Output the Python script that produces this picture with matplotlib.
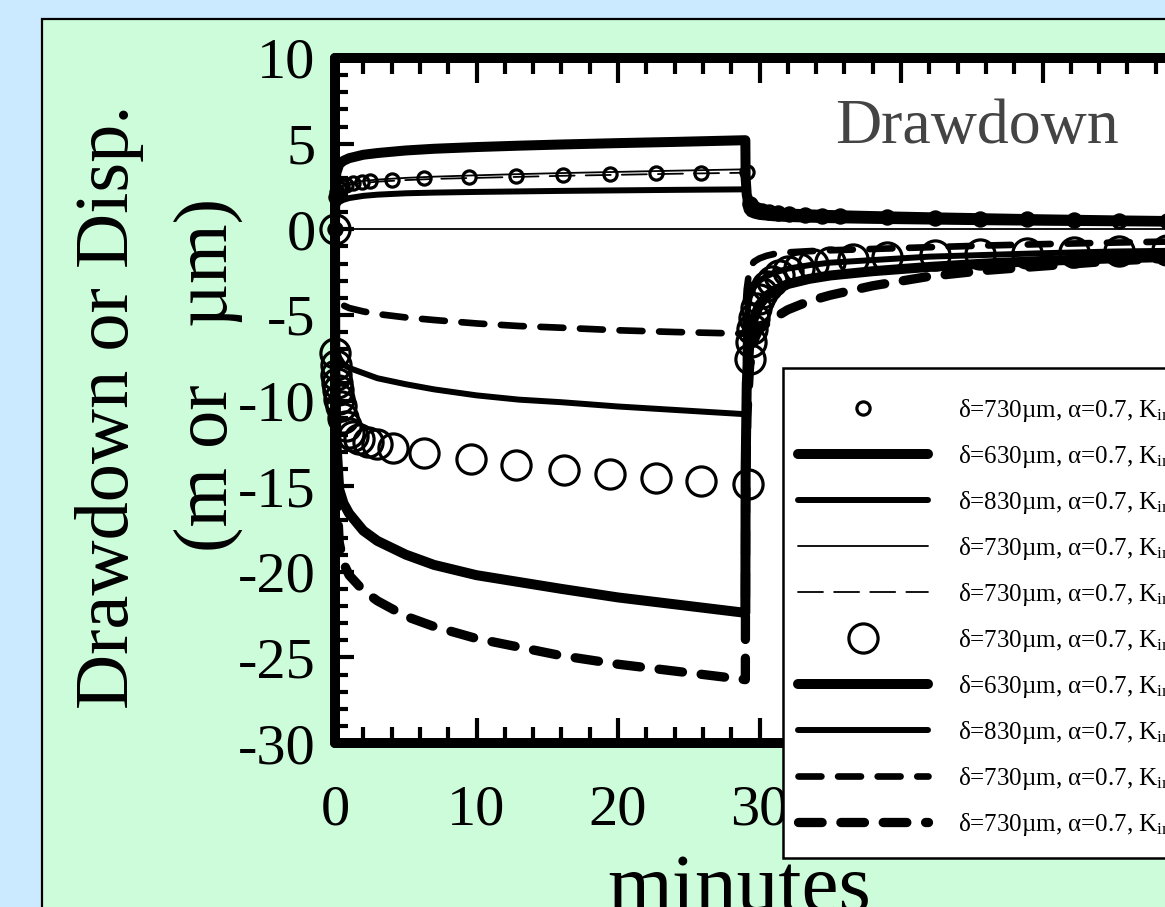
import numpy as np
import matplotlib.pyplot as plt
from matplotlib.patches import Rectangle

W, H = 1165, 907

# model curves share one time base (minutes); pumping stops at 29 min
t_model = [0, 0.02, 0.1, 0.3, 0.6, 1, 2, 3, 5, 7, 10, 13, 16, 20, 24, 29,
           29.02, 29.1, 29.3, 29.6, 30, 30.5, 31, 32, 33.5, 35, 38, 42, 46, 50, 55, 60]

# drawdown (m)
dd_630 = [0, 2.5, 3.3, 3.8, 4.0, 4.15, 4.35, 4.45, 4.6, 4.7, 4.8, 4.88, 4.95, 5.03, 5.1, 5.2,
          3.0, 2.0, 1.5, 1.25, 1.1, 1.02, 0.97, 0.92, 0.87, 0.83, 0.77, 0.7, 0.64, 0.58, 0.52, 0.47]
dd_830 = [0, 1.0, 1.35, 1.6, 1.72, 1.82, 1.95, 2.02, 2.1, 2.14, 2.18, 2.21, 2.24, 2.27, 2.3, 2.33,
          1.5, 1.1, 0.9, 0.8, 0.72, 0.68, 0.64, 0.6, 0.56, 0.53, 0.49, 0.45, 0.41, 0.38, 0.35, 0.32]
dd_730a = [0, 1.6, 2.2, 2.45, 2.6, 2.7, 2.82, 2.9, 3.0, 3.07, 3.15, 3.22, 3.28, 3.35, 3.42, 3.5,
           2.0, 1.4, 1.15, 1.0, 0.92, 0.87, 0.83, 0.78, 0.74, 0.71, 0.66, 0.61, 0.56, 0.52, 0.48, 0.44]
dd_730b = [0, 1.5, 2.1, 2.35, 2.5, 2.6, 2.7, 2.78, 2.87, 2.94, 3.0, 3.06, 3.12, 3.18, 3.24, 3.3,
           1.9, 1.35, 1.1, 0.97, 0.9, 0.85, 0.81, 0.76, 0.72, 0.69, 0.64, 0.59, 0.55, 0.51, 0.47, 0.43]

# displacement (um)
dp_630 = [0, -8, -12.5, -15.2, -16.0, -16.6, -17.6, -18.2, -19.0, -19.6, -20.2, -20.6, -21.0, -21.5, -21.9, -22.4,
          -14, -9, -6.5, -5.2, -4.4, -3.9, -3.6, -3.2, -2.9, -2.7, -2.45, -2.2, -2.0, -1.85, -1.7, -1.6]
dp_830 = [0, -5, -7.0, -7.5, -7.9, -8.1, -8.4, -8.7, -9.05, -9.35, -9.7, -9.95, -10.1, -10.35, -10.55, -10.8,
          -7, -5, -4, -3.4, -3.0, -2.75, -2.55, -2.3, -2.1, -1.95, -1.8, -1.6, -1.5, -1.4, -1.3, -1.25]
dp_730a = [0, -2.5, -3.6, -4.2, -4.45, -4.6, -4.8, -4.95, -5.15, -5.3, -5.5, -5.65, -5.75, -5.9, -6.0, -6.1,
           -4.5, -3.5, -2.3, -1.9, -1.7, -1.55, -1.45, -1.35, -1.28, -1.23, -1.15, -1.05, -0.95, -0.87, -0.78, -0.7]
dp_730b = [0, -10, -15, -18.3, -19.5, -20.2, -21.1, -21.7, -22.6, -23.2, -23.9, -24.4, -24.9, -25.4, -25.8, -26.3,
           -16, -11, -8, -6.5, -5.8, -5.5, -5.2, -4.7, -4.2, -3.85, -3.3, -2.75, -2.4, -2.15, -1.85, -1.65]

# measured points
t_dd_obs = [0, 0.05, 0.15, 0.3, 0.5, 0.8, 1.3, 1.9, 2.5, 4.0, 6.3, 9.5, 12.8, 16.1, 19.4, 22.7, 25.9, 29.1,
            29.3, 29.5, 29.8, 30.2, 30.7, 31.3, 32.1, 33.2, 34.4, 35.7, 39.0, 42.4, 45.6, 48.9, 52.2, 55.4, 58.8]
dd_obs = [0, 1.9, 2.2, 2.4, 2.5, 2.6, 2.7, 2.75, 2.8, 2.87, 2.97, 3.05, 3.1, 3.17, 3.22, 3.27, 3.3, 3.32,
          1.5, 1.3, 1.15, 1.05, 0.98, 0.93, 0.88, 0.84, 0.8, 0.77, 0.72, 0.67, 0.62, 0.58, 0.54, 0.5, 0.47]

t_dp_obs = [0, 0.02, 0.05, 0.1, 0.15, 0.2, 0.3, 0.4, 0.55, 0.75, 1.0, 1.3, 1.7, 2.3, 3.0, 4.1, 6.3, 9.6,
            12.8, 16.2, 19.4, 22.7, 25.9, 29.2,
            29.3, 29.4, 29.5, 29.6, 29.75, 29.95, 30.2, 30.5, 30.9, 31.4, 32.0, 32.8, 33.8, 35.0, 36.6,
            39.0, 42.4, 45.6, 48.9, 52.2, 55.4, 58.8]
dp_obs = [0, -7.2, -7.9, -8.5, -9.0, -9.4, -9.9, -10.3, -11.0, -11.5, -11.9, -12.1, -12.25, -12.4, -12.55,
          -12.75, -13.05, -13.4, -13.75, -14.05, -14.3, -14.55, -14.7, -14.9,
          -7.6, -6.6, -5.8, -5.2, -4.6, -4.1, -3.7, -3.3, -3.0, -2.7, -2.45, -2.25, -2.05, -1.9, -1.75,
          -1.6, -1.5, -1.42, -1.36, -1.3, -1.25, -1.2]

x_major = [0, 10, 20, 30, 40, 50, 60]
x_labels = ['0', '10', '20', '30', '', '', '']   # the rest sit under the legend box

lab730 = "δ=730µm, α=0.7, $\\mathrm{K_{in}}$="
lab630 = "δ=630µm, α=0.7, $\\mathrm{K_{in}}$="
lab830 = "δ=830µm, α=0.7, $\\mathrm{K_{in}}$="

plt.rcParams['font.family'] = 'Liberation Serif'
plt.rcParams['mathtext.fontset'] = 'custom'
plt.rcParams['mathtext.rm'] = 'Liberation Serif'
plt.rcParams['axes.unicode_minus'] = False
plt.rcParams['lines.scale_dashes'] = False

fig = plt.figure(figsize=(W / 100, H / 100), dpi=100, facecolor='#cceaff')

# green panel behind the plot
panel = Rectangle((42 / W, -0.5), 2, (H - 19) / H + 0.5, transform=fig.transFigure,
                  facecolor='#ccfcd9', edgecolor='black', linewidth=1.6, zorder=0)
fig.add_artist(panel)

ax = fig.add_axes([335 / W, (H - 743) / H, (1184 - 335) / W, (743 - 58) / H])
ax.set_facecolor('white')

rnd = dict(solid_capstyle='round', solid_joinstyle='round',
           dash_capstyle='round', dash_joinstyle='round', color='black')

ax.axhline(0, color='black', lw=1.3)

l1, = ax.plot(t_dd_obs, dd_obs, ls='none', marker='o', ms=9.5, mew=2.3, mfc='none', mec='black',
              clip_on=False, zorder=4, label=lab730)
l2, = ax.plot(t_model, dd_630, lw=7.2, label=lab630, **rnd)
l3, = ax.plot(t_model, dd_830, lw=4.3, label=lab830, **rnd)
l4, = ax.plot(t_model, dd_730a, lw=1.3, label=lab730, **rnd)
l5, = ax.plot(t_model, dd_730b, lw=1.3, dashes=(18, 8), label=lab730, **rnd)

l6, = ax.plot(t_dp_obs, dp_obs, ls='none', marker='o', ms=21, mew=2.3, mfc='none', mec='black',
              clip_on=False, zorder=4, label=lab730)
l7, = ax.plot(t_model, dp_630, lw=7.2, label=lab630, **rnd)
l8, = ax.plot(t_model, dp_830, lw=4.3, label=lab830, **rnd)
l9, = ax.plot(t_model, dp_730a, lw=4.8, dashes=(16.5, 12), label=lab730, **rnd)
l10, = ax.plot(t_model, dp_730b, lw=6.7, dashes=(17, 13.5), label=lab730, **rnd)

ax.set_xlim(0, 60)
ax.set_ylim(-30, 10)
ax.set_xticks(x_major, x_labels)
ax.set_xticks(np.arange(0, 61, 2), minor=True)
ax.set_yticks(np.arange(-30, 11, 5))
ax.set_yticks(np.arange(-30, 11, 1), minor=True)

for s in ax.spines.values():
    s.set_linewidth(7.2)
    s.set_capstyle('round')
    s.set_zorder(5)

ax.tick_params(axis='both', which='both', direction='in', top=True, right=True, width=3)
ax.tick_params(axis='x', which='major', length=18, pad=30, labelsize=42)
ax.tick_params(axis='x', which='minor', length=11.5)
ax.tick_params(axis='y', which='major', length=14, pad=14, labelsize=42)
ax.tick_params(axis='y', which='minor', length=9.5)

ax.text(835 / W, (H - 143) / H, "Drawdown", transform=fig.transFigure, fontsize=46,
        color='#444444', va='baseline', ha='left')

# y-axis caption, two rotated lines
fig.text(110 / W, (H - 407) / H, "Drawdown or Disp.", rotation=90,
         fontsize=55, ha='center', va='center')
fig.text(208 / W, (H - 375) / H, "(m or   µm)", rotation=90,
         fontsize=55, ha='center', va='center')
fig.text(739 / W, -4 / H, "minutes", fontsize=60, ha='center', va='baseline')

# legend box drawn separately so the entries can sit lower inside it
box = Rectangle((783 / W, (H - 858) / H), 0.5, (858 - 368) / H, transform=fig.transFigure,
                facecolor='white', edgecolor='black', linewidth=1.8, clip_on=False, zorder=5.5)
ax.add_patch(box)

leg = ax.legend(handles=[l1, l2, l3, l4, l5, l6, l7, l8, l9, l10],
                loc='upper left', bbox_to_anchor=(783 / W, (H - 382) / H),
                bbox_transform=fig.transFigure, borderaxespad=0, fontsize=18,
                handlelength=5.2, handletextpad=1.2, borderpad=0.6,
                labelspacing=0.76, numpoints=1, frameon=False)
leg.set_zorder(6)

fig.savefig('out.png', dpi=100, facecolor=fig.get_facecolor())
